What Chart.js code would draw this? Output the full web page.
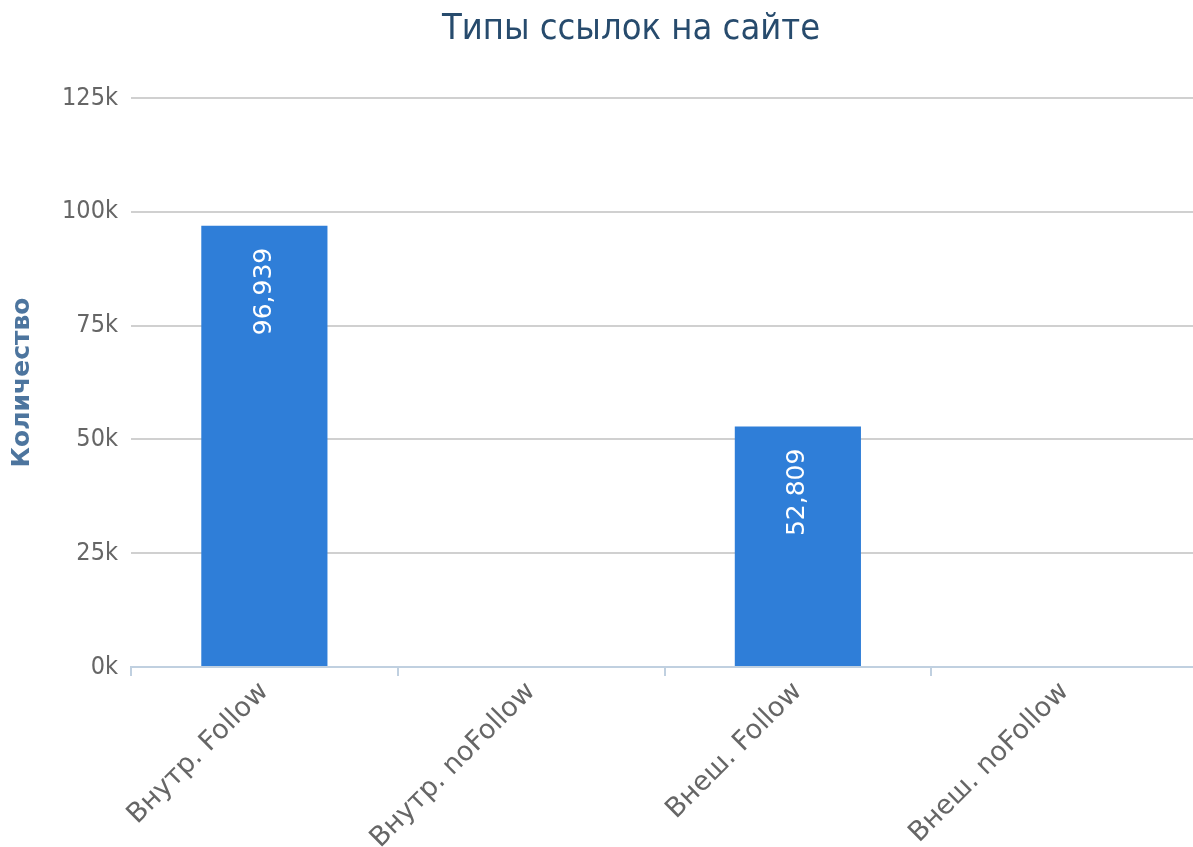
<!DOCTYPE html>
<html><head><meta charset="utf-8">
<script src="https://cdn.jsdelivr.net/npm/chart.js@4.4.1/dist/chart.umd.min.js"></script>
<style>html,body{margin:0;padding:0;background:#fff;overflow:hidden}canvas{display:block}</style>
</head><body>
<canvas id="c" width="1198" height="847"></canvas>
<script>
const chartTitle = 'Типы ссылок на сайте';
const yAxisTitle = 'Количество';
const categories = ['Внутр. Follow', 'Внутр. noFollow', 'Внеш. Follow', 'Внеш. noFollow'];
const linkCounts = [96939, 0, 52809, 0];
const yTickValues = [0, 25000, 50000, 75000, 100000, 125000];

const COND = '"DejaVu Sans Condensed", "DejaVu Sans", sans-serif';
const NORM = '"DejaVu Sans", sans-serif';

const titlePlugin = {
  id: 'pageTitle',
  afterDraw(chart) {
    const ctx = chart.ctx;
    ctx.save();
    ctx.font = '36px ' + COND;
    ctx.fillStyle = '#274b6d';
    ctx.textAlign = 'center';
    ctx.textBaseline = 'alphabetic';
    ctx.fillText(chartTitle, chart.width / 2 + 32, 39);
    ctx.restore();
  }
};

const valueLabelPlugin = {
  id: 'valueLabels',
  afterDatasetsDraw(chart) {
    const ctx = chart.ctx;
    const meta = chart.getDatasetMeta(0);
    meta.data.forEach((bar, i) => {
      const v = linkCounts[i];
      if (!v) return;
      ctx.save();
      ctx.translate(bar.x, bar.y + 22);
      ctx.rotate(-Math.PI / 2);
      ctx.font = '25px ' + NORM;
      ctx.fillStyle = '#ffffff';
      ctx.textAlign = 'right';
      ctx.textBaseline = 'middle';
      ctx.fillText(v.toLocaleString('en-US'), 0, 0);
      ctx.restore();
    });
  }
};

new Chart(document.getElementById('c'), {
  type: 'bar',
  data: {
    labels: categories,
    datasets: [{
      data: linkCounts,
      backgroundColor: '#2f7ed8',
      borderWidth: 0,
      barPercentage: 0.473,
      categoryPercentage: 1
    }]
  },
  options: {
    responsive: false,
    animation: false,
    devicePixelRatio: 1,
    layout: { padding: { top: 98, right: 0, bottom: 0, left: 0 } },
    plugins: { legend: { display: false }, tooltip: { enabled: false }, title: { display: false } },
    scales: {
      x: {
        grid: { display: true, drawOnChartArea: false, drawTicks: true, tickLength: 9, color: '#c0d0e0', lineWidth: 2, offset: true },
        border: { color: '#c0d0e0', width: 2 },
        ticks: { maxRotation: 45, minRotation: 45, color: '#666666', font: { family: NORM, size: 27 }, padding: 0 },
        afterFit: s => { s.height = 180; }
      },
      y: {
        min: 0, max: 125000,
        afterBuildTicks: s => { s.ticks = yTickValues.map(v => ({ value: v })); },
        ticks: { callback: v => (v / 1000) + 'k', color: '#666666', font: { family: COND, size: 25 }, padding: 13 },
        grid: { color: '#d0d0d0', lineWidth: 2, drawTicks: false },
        border: { display: false },
        title: { display: true, text: yAxisTitle, color: '#4d759e', font: { family: NORM, size: 25, weight: 'bold' }, padding: { top: 7, bottom: 4 } },
        afterFit: s => { s.width = 131; }
      }
    }
  },
  plugins: [titlePlugin, valueLabelPlugin]
});
</script>
</body></html>
